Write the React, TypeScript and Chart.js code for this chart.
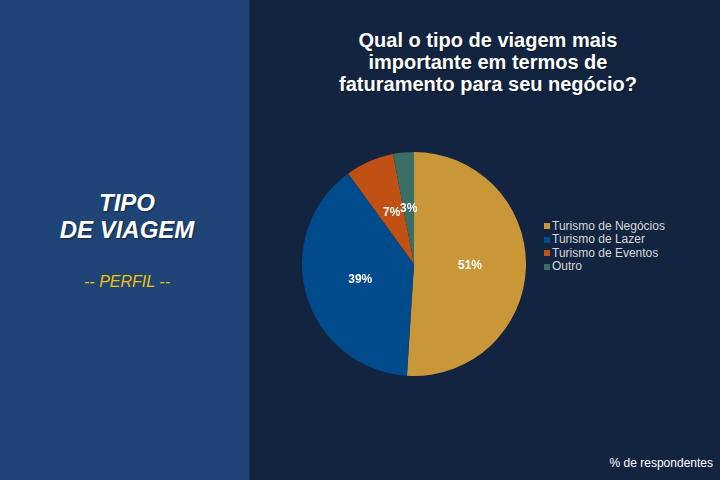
import React, { useEffect, useRef } from 'react';
import Chart from 'chart.js/auto';

// dados do gráfico (% de respondentes)
const categories = ['Turismo de Negócios', 'Turismo de Lazer', 'Turismo de Eventos', 'Outro'];
const shares = [51, 39, 7, 3];
const sliceColors = ['#C99738', '#004B8C', '#C05014', '#3B6E64'];

const titleLines = ['Qual o tipo de viagem mais', 'importante em termos de', 'faturamento para seu negócio?'];

const FONT = '"Liberation Sans", Arial, sans-serif';

// escreve o % no meio de cada fatia
const sliceLabels = {
  id: 'sliceLabels',
  afterDatasetsDraw(chart: any) {
    const ctx = chart.ctx;
    const meta = chart.getDatasetMeta(0);
    ctx.save();
    ctx.font = `bold 12px ${FONT}`;
    ctx.fillStyle = '#ffffff';
    ctx.textAlign = 'center';
    ctx.textBaseline = 'middle';
    meta.data.forEach((arc: any, i: number) => {
      const { x, y } = arc.tooltipPosition(false);
      ctx.fillText(`${shares[i]}%`, x, y);
    });
    ctx.restore();
  },
};

function App() {
  const chartRef = useRef<HTMLCanvasElement>(null);

  useEffect(() => {
    let myChart: any = null;
    if (chartRef.current) {
      myChart = new Chart(chartRef.current, {
        type: 'pie',
        data: {
          labels: categories,
          datasets: [
            {
              data: shares,
              backgroundColor: sliceColors,
              borderWidth: 0,
            },
          ],
        },
        options: {
          responsive: true,
          maintainAspectRatio: false,
          animation: false,
          radius: 112,
          layout: { padding: 0 },
          plugins: {
            legend: { display: false },
            tooltip: { enabled: false },
          },
        },
        plugins: [sliceLabels],
      });
    }

    return () => {
      if (myChart) myChart.destroy();
    };
  }, []);

  return (
    <div style={{ position: 'absolute', left: 0, top: 0, width: 720, height: 480, overflow: 'hidden', background: '#12243F', fontFamily: FONT }}>
      {/* painel da esquerda */}
      <div style={{ position: 'absolute', left: 0, top: 0, width: 250, height: 480, background: '#1F4577', borderRight: '1px solid #183658', boxSizing: 'border-box' }} />
      <div style={{ position: 'absolute', left: 2, top: 190, width: 250, textAlign: 'center', color: '#ffffff', fontWeight: 'bold', fontStyle: 'italic', fontSize: 24, lineHeight: '26.6px', textShadow: '1px 1px 2px rgba(0,0,0,0.45)' }}>
        TIPO<br />DE VIAGEM
      </div>
      <div style={{ position: 'absolute', left: 2, top: 273, width: 250, textAlign: 'center', color: '#F2C200', fontStyle: 'italic', fontSize: 16, lineHeight: '18px' }}>
        -- PERFIL --
      </div>

      {/* título */}
      <div style={{ position: 'absolute', left: 258, top: 29, width: 460, textAlign: 'center', color: '#ffffff', fontWeight: 'bold', fontSize: 20, lineHeight: '22px', textShadow: '1px 1px 1px rgba(0,0,0,0.35)' }}>
        {titleLines.map((line) => (
          <div key={line}>{line}</div>
        ))}
      </div>

      {/* pizza */}
      <div style={{ position: 'absolute', left: 294, top: 144, width: 240, height: 240 }}>
        <canvas ref={chartRef} />
      </div>

      {/* legenda */}
      <div style={{ position: 'absolute', left: 544, top: 219.6, color: '#D9D9D9', fontSize: 12, lineHeight: '13.5px' }}>
        {categories.map((name, i) => (
          <div key={name} style={{ display: 'flex', alignItems: 'center', height: 13.5 }}>
            <span style={{ display: 'inline-block', width: 6, height: 6, background: sliceColors[i], marginRight: 2 }} />
            <span>{name}</span>
          </div>
        ))}
      </div>

      <div style={{ position: 'absolute', right: 7, top: 456, color: '#ffffff', fontSize: 12, lineHeight: '14px' }}>
        % de respondentes
      </div>
    </div>
  );
}

export default App;
